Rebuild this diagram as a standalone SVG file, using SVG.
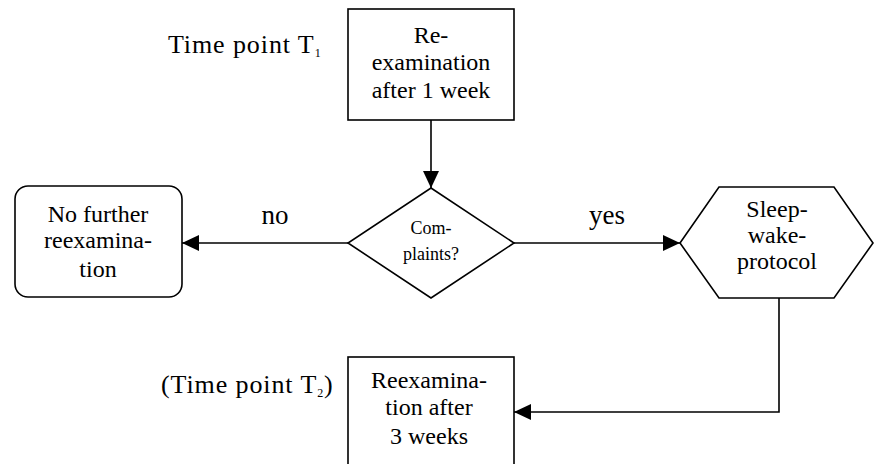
<svg xmlns="http://www.w3.org/2000/svg" width="874" height="464" viewBox="0 0 874 464">
<style>
.shape{fill:#fff;stroke:#000;stroke-width:1.6}
.edge{fill:none;stroke:#000;stroke-width:1.6}
text{font-family:"Liberation Serif","Times New Roman",serif;fill:#000;text-anchor:middle}
.t{font-size:24px}
.s{font-size:18px}
.yn{font-size:27px}
.lbl{font-size:26px;text-anchor:start;letter-spacing:0.9px}
.sub{font-size:12px}
</style>
<defs>
<marker id="arr" markerUnits="userSpaceOnUse" markerWidth="18" markerHeight="16" refX="17" refY="8" orient="auto">
<path d="M0,0 L17,8 L0,16 Z" fill="#000"/>
</marker>
</defs>
<g id="connectors">
<line class="edge" x1="431" y1="120" x2="431" y2="188" marker-end="url(#arr)"/>
<line class="edge" x1="348" y1="243" x2="182" y2="243" marker-end="url(#arr)"/>
<line class="edge" x1="514" y1="243" x2="680" y2="243" marker-end="url(#arr)"/>
<polyline class="edge" points="779,298 779,412 514,412" marker-end="url(#arr)"/>
<text class="yn" x="275" y="224">no</text>
<text class="yn" x="607" y="224">yes</text>
</g>
<g id="label-t1">
<text class="lbl" x="168" y="53">Time point T<tspan class="sub" dy="4">1</tspan></text>
</g>
<g id="label-t2">
<text class="lbl" x="161" y="393">(Time point T<tspan class="sub" dy="4">2</tspan><tspan dy="-4">)</tspan></text>
</g>
<g id="node-reexam1">
<rect class="shape" x="348" y="9" width="166" height="111"/>
<text class="t" x="431" y="43">Re-</text>
<text class="t" x="431" y="70">examination</text>
<text class="t" x="431" y="98">after 1 week</text>
</g>
<g id="node-complaints">
<polygon class="shape" points="431,188 514,243 431,298 348,243"/>
<text class="s" x="431" y="234">Com-</text>
<text class="s" x="431" y="260">plaints?</text>
</g>
<g id="node-nofurther">
<rect class="shape" x="15" y="186" width="167" height="111" rx="13" ry="13"/>
<text class="t" x="98" y="222">No further</text>
<text class="t" x="98" y="248">reexamina-</text>
<text class="t" x="98" y="277">tion</text>
</g>
<g id="node-sleepwake">
<polygon class="shape" points="680,243 719,187 834,187 873,243 834,298 719,298"/>
<text class="t" x="777" y="217">Sleep-</text>
<text class="t" x="777" y="243">wake-</text>
<text class="t" x="777" y="269">protocol</text>
</g>
<g id="node-reexam3">
<rect class="shape" x="348" y="357" width="166" height="130"/>
<text class="t" x="429" y="388">Reexamina-</text>
<text class="t" x="429" y="415">tion after</text>
<text class="t" x="429" y="444">3 weeks</text>
</g>
</svg>
